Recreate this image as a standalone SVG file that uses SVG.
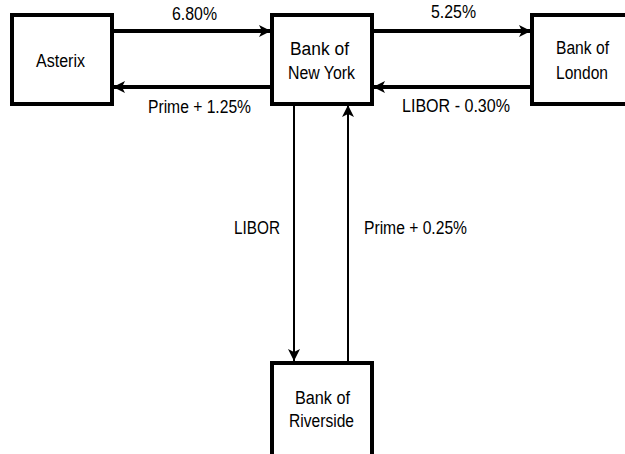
<svg xmlns="http://www.w3.org/2000/svg" width="625" height="454" viewBox="0 0 625 454">
<style>
.box{fill:#fff;stroke:#000;stroke-width:4}
.t{font-family:"Liberation Sans",Arial,sans-serif;font-size:18px;fill:#000}
.thick{stroke:#000;stroke-width:4;fill:none}
.thin{stroke:#000;stroke-width:2;fill:none}
</style>
<defs>
<marker id="ah" viewBox="0 0 12 12" refX="12" refY="6" markerWidth="12" markerHeight="12" markerUnits="userSpaceOnUse" orient="auto">
<path d="M0,0 L12,6 L0,12 L3,6 Z" fill="#000"/>
</marker>
</defs>
<rect width="625" height="454" fill="#fff"/>
<g id="connectors">
<line class="thick" x1="112" y1="31" x2="271" y2="31" marker-end="url(#ah)"/>
<line class="thick" x1="271" y1="87" x2="113" y2="87" marker-end="url(#ah)"/>
<line class="thick" x1="372" y1="31" x2="531" y2="31" marker-end="url(#ah)"/>
<line class="thick" x1="531" y1="87" x2="373" y2="87" marker-end="url(#ah)"/>
<line class="thin" x1="294" y1="105" x2="294" y2="361" marker-end="url(#ah)"/>
<line class="thin" x1="348" y1="361" x2="348" y2="105" marker-end="url(#ah)"/>
<text class="t" x="172" y="20" textLength="45" lengthAdjust="spacingAndGlyphs">6.80%</text>
<text class="t" x="148" y="113" textLength="103" lengthAdjust="spacingAndGlyphs">Prime + 1.25%</text>
<text class="t" x="431" y="18" textLength="45" lengthAdjust="spacingAndGlyphs">5.25%</text>
<text class="t" x="402" y="112" textLength="108" lengthAdjust="spacingAndGlyphs">LIBOR - 0.30%</text>
<text class="t" x="234" y="234" textLength="46" lengthAdjust="spacingAndGlyphs">LIBOR</text>
<text class="t" x="364" y="234" textLength="103" lengthAdjust="spacingAndGlyphs">Prime + 0.25%</text>
</g>
<g id="asterix">
<rect class="box" x="12" y="15" width="100" height="89"/>
<text class="t" x="36" y="67" textLength="49" lengthAdjust="spacingAndGlyphs">Asterix</text>
</g>
<g id="bank-of-new-york">
<rect class="box" x="272" y="15" width="100" height="89"/>
<text class="t" x="290" y="55" textLength="59" lengthAdjust="spacingAndGlyphs">Bank of</text>
<text class="t" x="288" y="79" textLength="67" lengthAdjust="spacingAndGlyphs">New York</text>
</g>
<g id="bank-of-london">
<rect class="box" x="532" y="15" width="100" height="89"/>
<text class="t" x="556" y="54" textLength="53" lengthAdjust="spacingAndGlyphs">Bank of</text>
<text class="t" x="556" y="79" textLength="52" lengthAdjust="spacingAndGlyphs">London</text>
</g>
<g id="bank-of-riverside">
<rect class="box" x="272" y="363" width="100" height="95"/>
<text class="t" x="295" y="404" textLength="55" lengthAdjust="spacingAndGlyphs">Bank of</text>
<text class="t" x="289" y="427" textLength="65" lengthAdjust="spacingAndGlyphs">Riverside</text>
</g>
</svg>
